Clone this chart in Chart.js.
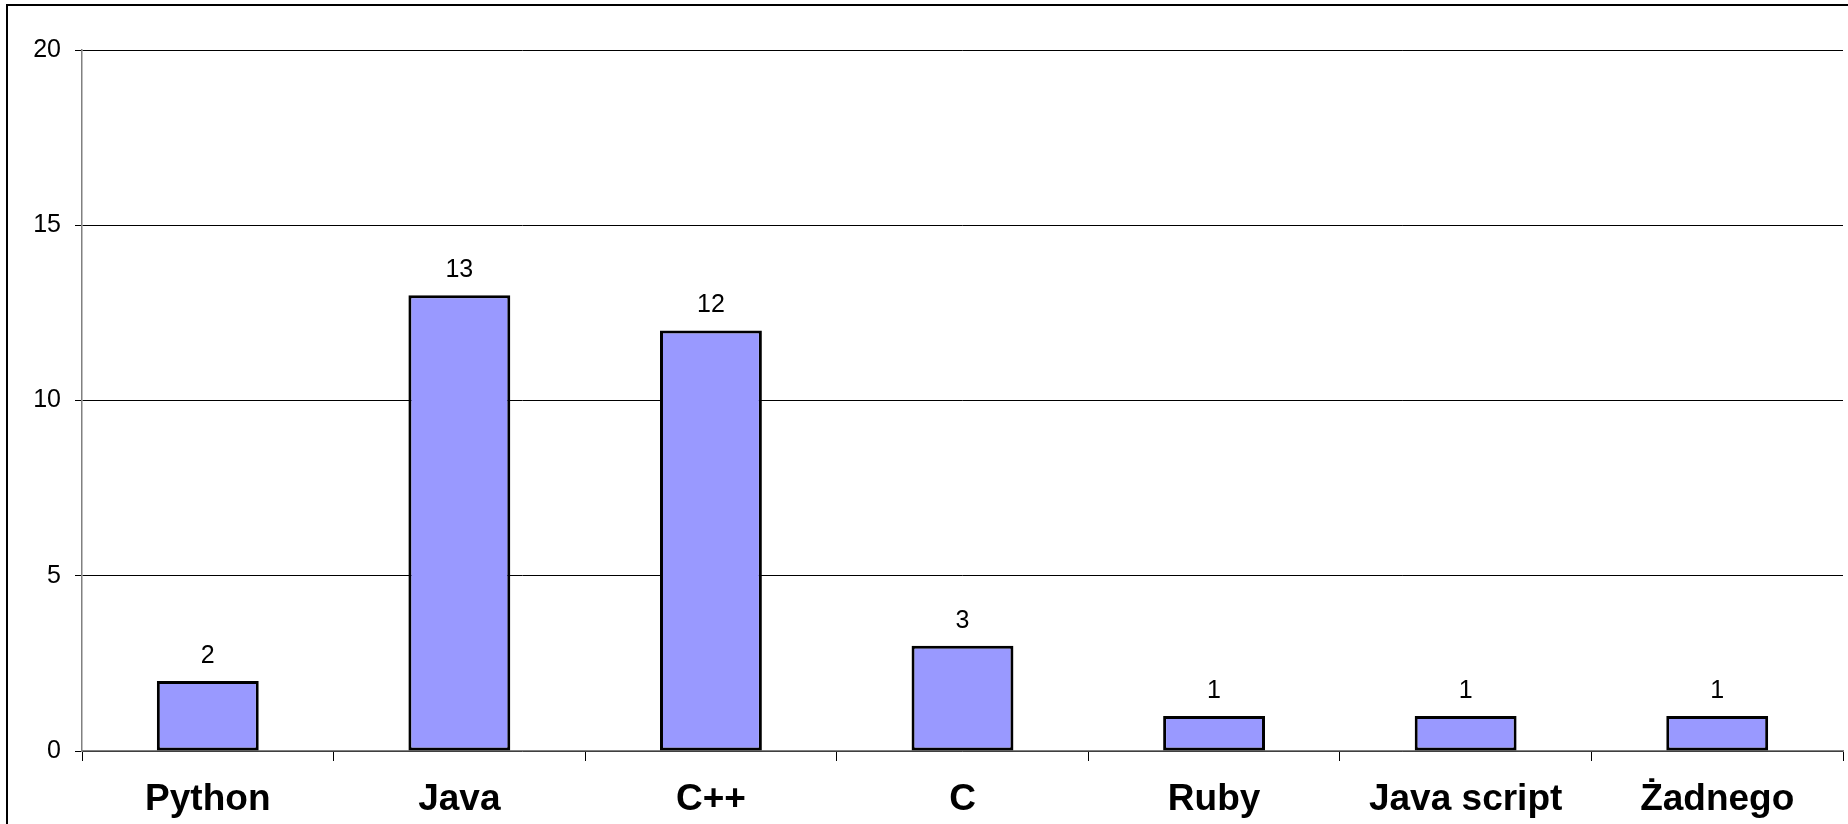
<!DOCTYPE html>
<html>
<head>
<meta charset="utf-8">
<script src="https://cdn.jsdelivr.net/npm/chart.js@4.4.1/dist/chart.umd.min.js"></script>
<style>
  html, body { margin: 0; padding: 0; background: #fff; }
  #wrap { position: relative; width: 1848px; height: 824px; }
  canvas { display: block; }
</style>
</head>
<body>
<div id="wrap"><canvas id="c" width="1848" height="824"></canvas></div>
<script>
// Languages and how many people chose each
const categories = ['Python', 'Java', 'C++', 'C', 'Ruby', 'Java script', 'Żadnego'];
const counts = [2, 13, 12, 3, 1, 1, 1];
const yTicks = [0, 5, 10, 15, 20];

const FONT = '"Liberation Sans", Arial, sans-serif';

// Thin frame around the whole drawing
const framePlugin = {
  id: 'frame',
  beforeDraw(chart) {
    const ctx = chart.ctx;
    ctx.save();
    ctx.strokeStyle = '#000';
    ctx.lineWidth = 2;
    ctx.beginPath();
    ctx.moveTo(7, chart.height + 5);
    ctx.lineTo(7, 5);
    ctx.lineTo(chart.width + 5, 5);
    ctx.stroke();
    ctx.restore();
  }
};

// Value printed above each bar
const valueLabels = {
  id: 'valueLabels',
  afterDatasetsDraw(chart) {
    const ctx = chart.ctx;
    const meta = chart.getDatasetMeta(0);
    const data = chart.data.datasets[0].data;
    ctx.save();
    ctx.font = '25px ' + FONT;
    ctx.fillStyle = '#000';
    ctx.textAlign = 'center';
    ctx.textBaseline = 'alphabetic';
    meta.data.forEach((bar, i) => {
      ctx.fillText(String(data[i]), bar.x, bar.y - 18);
    });
    ctx.restore();
  }
};

new Chart(document.getElementById('c'), {
  type: 'bar',
  data: {
    labels: categories,
    datasets: [{
      data: counts,
      backgroundColor: '#9999FF',
      borderColor: '#000',
      borderWidth: 3,
      borderSkipped: false,
      categoryPercentage: 1,
      barPercentage: 0.405
    }]
  },
  options: {
    responsive: false,
    animation: false,
    devicePixelRatio: 1,
    layout: { padding: { top: 50, right: 5, left: 0, bottom: 0 } },
    plugins: {
      legend: { display: false },
      tooltip: { enabled: false }
    },
    scales: {
      x: {
        offset: true,
        grid: {
          offset: true,
          drawOnChartArea: false,
          drawTicks: true,
          tickLength: 10,
          color: '#000',
          lineWidth: 1
        },
        border: { color: '#808080', width: 1.5 },
        ticks: {
          color: '#000',
          font: { family: FONT, size: 37, weight: 'bold' },
          padding: 17,
          maxRotation: 0,
          autoSkip: false
        },
        afterFit(scale) { scale.height = 73; }
      },
      y: {
        min: 0,
        max: 20,
        afterBuildTicks(scale) { scale.ticks = yTicks.map(v => ({ value: v })); },
        grid: {
          color: '#000',
          lineWidth: 1,
          drawTicks: true,
          tickLength: 7
        },
        border: { color: '#808080', width: 1.5 },
        ticks: {
          color: '#000',
          font: { family: FONT, size: 25 },
          padding: 14
        },
        afterFit(scale) { scale.width = 82; }
      }
    }
  },
  plugins: [framePlugin, valueLabels]
});
</script>
</body>
</html>
